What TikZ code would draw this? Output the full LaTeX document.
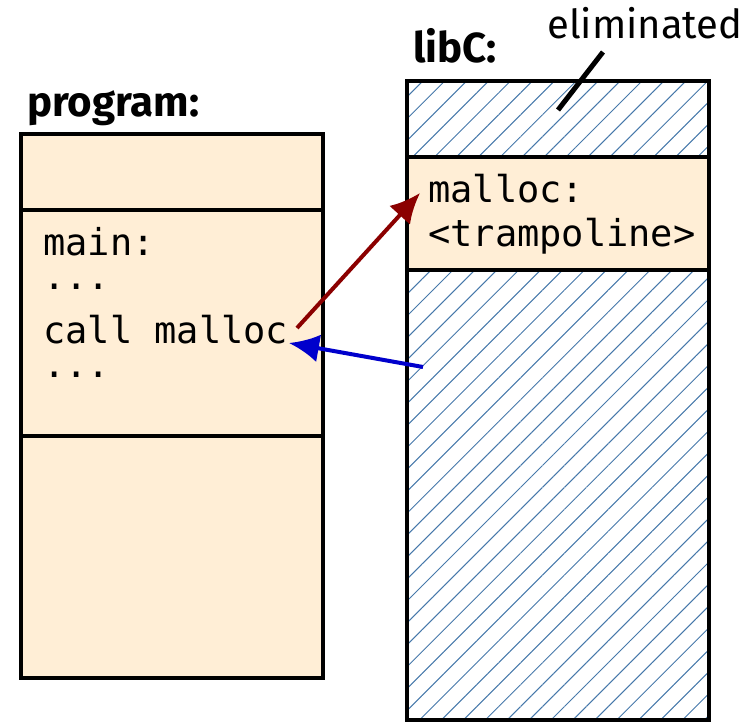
\documentclass[tikz,border=0pt]{standalone}
\usepackage{fontspec}
\setmainfont{Fira Sans}
\setmonofont{DejaVu Sans Mono}
\usetikzlibrary{arrows.meta,patterns.meta}
\definecolor{seg}{RGB}{255,238,214}
\definecolor{hatch}{RGB}{70,120,170}
\tikzset{
  seg/.style={draw,line width=4pt,fill=seg},
  gone/.style={draw,line width=4pt,pattern={Lines[angle=45,distance=15.5pt,line width=1pt]},pattern color=hatch},
  code/.style={anchor=base west,inner sep=0pt,font=\fontsize{37}{44}\selectfont\ttfamily},
  lbl/.style={anchor=base west,inner sep=0pt,font=\fontsize{42}{50}\selectfont\bfseries},
  jump/.style={line width=4pt,-{Latex[length=30pt,width=28pt]}}
}
\begin{document}
\begin{tikzpicture}[x=1pt,y=-1pt]
\useasboundingbox (0,0) rectangle (741,723);
% program
\draw[seg] (21,134) rectangle (323,678);
\draw[line width=4pt] (21,210)--(323,210) (21,436)--(323,436);
\node[lbl] (prog) at (27,116) {program:};
\node[code] (main) at (43,255) {main:};
\node[code] (dots1) at (43,289) {...};
\node[code] (call) at (43,343) {call malloc};
\node[code] (dots2) at (43,377) {...};
% libC
\draw[gone] (407,81) rectangle (709,157);
\draw[seg] (407,157) rectangle (709,270);
\draw[gone] (407,270) rectangle (709,720);
\node[lbl] (libc) at (413,62) {libC:};
\node[code] (malloc) at (428,202) {malloc:};
\node[code] (tramp) at (428,246) {<trampoline>};
\node[anchor=base west,inner sep=0pt,font=\fontsize{40}{48}\selectfont] (elim) at (547,38) {eliminated};
\coordinate (elimfoot) at (603,52);
\coordinate (elimtip) at (558,110);
\draw[line width=5pt] (elimfoot) -- (elimtip);
% jumps
\coordinate (callout) at (297,328);
\coordinate (trampin) at (420,193);
\coordinate (plt) at (423,367);
\coordinate (callret) at (289,343);
\draw[jump,draw={rgb,255:red,139;green,0;blue,0}] (callout) -- (trampin);
\draw[jump,draw={rgb,255:red,0;green,0;blue,204}] (plt) -- (callret);
\end{tikzpicture}
\end{document}
